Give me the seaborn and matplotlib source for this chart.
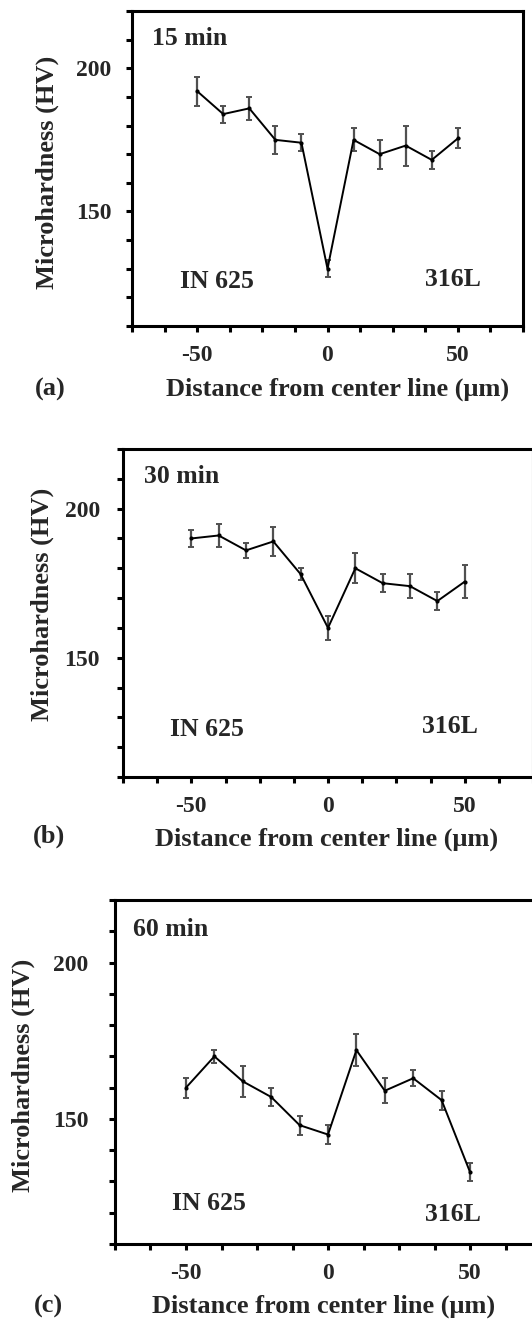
import numpy as np
import pandas as pd
import matplotlib
matplotlib.use("Agg")
import matplotlib.pyplot as plt
import seaborn as sns

# ---- data ----
distance = [-50, -40, -30, -20, -10, 0, 10, 20, 30, 40, 50]

hv_15 = [192, 184, 186, 175, 174, 130, 175, 170, 173, 168, 175.5]
err_15 = [5, 3, 4, 5, 3, 3, 4, 5, 7, 3, 3.5]

hv_30 = [190, 191, 186, 189, 178, 160, 180, 175, 174, 169, 175.5]
err_30 = [3, 4, 2.5, 5, 2, 4, 5, 3, 4, 3, 5.5]

hv_60 = [160, 170, 162, 157, 148, 145, 172, 159, 163, 156, 133]
err_60 = [3.2, 2, 5, 3, 3, 3, 5, 4, 2.5, 3, 3]

titles = ["15 min", "30 min", "60 min"]
panel_tags = ["(a)", "(b)", "(c)"]
ytick_labels = ["150", "200"]
xtick_labels = ["-50", "0", "50"]
xlabel = "Distance from center line (\u03bcm)"
ylabel = "Microhardness (HV)"
left_alloy = "IN 625"
right_alloy = "316L"

sns.set_style("ticks")
plt.rcParams['font.family'] = ['Liberation Serif', 'DejaVu Serif']
plt.rcParams['font.weight'] = 'bold'

W, H = 532, 1321
fig = plt.figure(figsize=(W / 100, H / 100), dpi=100)

# axes rectangles in pixels: left, top, right, bottom
rects = [(132, 11, 523, 326), (123, 449, 533, 777), (115, 900, 541, 1244)]
ytick_pad = [11, 12.5, 15]
title_pos = [(-67.5, 210.5), (-67.5, 210.9), (-68.7, 210.7)]
left_pos = [(-42.4, 125.7), (-44.4, 126.0), (-41.9, 123.0)]
right_pos = [(48.3, 126.3), (44.6, 126.9), (43.9, 119.3)]
ylab_x = [47, 42, 23]
ylab_y = [172, 604, 1075]
xlab_pos = [(338, 389), (327, 839), (324, 1306)]
tag_pos = [(50, 389), (49, 836), (48, 1306)]

series = [(hv_15, err_15), (hv_30, err_30), (hv_60, err_60)]
fs_tick = 17
fs_ann = 18.5
fs_lab = 19

for i, ((hv, err), (l, t, r, b)) in enumerate(zip(series, rects)):
    ax = fig.add_axes([l / W, 1 - b / H, (r - l) / W, (b - t) / H])
    df = pd.DataFrame({"x": distance, "y": hv, "e": err})
    ax.errorbar(df["x"], df["y"], yerr=df["e"], fmt="none", ecolor="#505050",
                elinewidth=1.6, capsize=2.2, capthick=1.4, zorder=2)
    sns.lineplot(data=df, x="x", y="y", ax=ax, color="black", linewidth=1.4,
                 marker="o", markersize=3, markeredgewidth=0, zorder=3)
    ax.set_xlim(-75, 75)
    ax.set_ylim(110, 220)
    xt = np.arange(-75, 75.1, 12.5)
    ax.set_xticks(xt)
    ax.set_xticklabels(["" if v not in (-50, 0, 50) else xtick_labels[[-50, 0, 50].index(v)]
                        for v in xt])
    yt = np.arange(110, 221, 10)
    ax.set_yticks(yt)
    ax.set_yticklabels([str(v) if v in (150, 200) else "" for v in yt])
    ax.tick_params(axis="both", direction="out", length=4, width=2.2,
                   labelsize=fs_tick, color="black")
    ax.tick_params(axis="x", pad=10)
    ax.tick_params(axis="y", pad=ytick_pad[i])
    for lab in ax.get_xticklabels() + ax.get_yticklabels():
        lab.set_fontweight("bold")
    for s in ax.spines.values():
        s.set_linewidth(2.2)
        s.set_color("black")
        s.set_visible(True)
    ax.set_xlabel("")
    ax.set_ylabel("")
    ax.text(title_pos[i][0], title_pos[i][1], titles[i], fontsize=fs_ann,
            fontweight="bold", ha="left", va="center")
    ax.text(left_pos[i][0], left_pos[i][1], left_alloy, fontsize=fs_ann,
            fontweight="bold", ha="center", va="center")
    ax.text(right_pos[i][0], right_pos[i][1], right_alloy, fontsize=fs_ann,
            fontweight="bold", ha="center", va="center")
    fig.text(ylab_x[i] / W, 1 - ylab_y[i] / H, ylabel, rotation=90,
             fontsize=fs_lab, fontweight="bold", ha="center", va="center")
    fig.text(xlab_pos[i][0] / W, 1 - xlab_pos[i][1] / H, xlabel,
             fontsize=fs_lab, fontweight="bold", ha="center", va="center")
    fig.text(tag_pos[i][0] / W, 1 - tag_pos[i][1] / H, panel_tags[i],
             fontsize=fs_lab, fontweight="bold", ha="center", va="center")

fig.savefig("out.png", dpi=100)
